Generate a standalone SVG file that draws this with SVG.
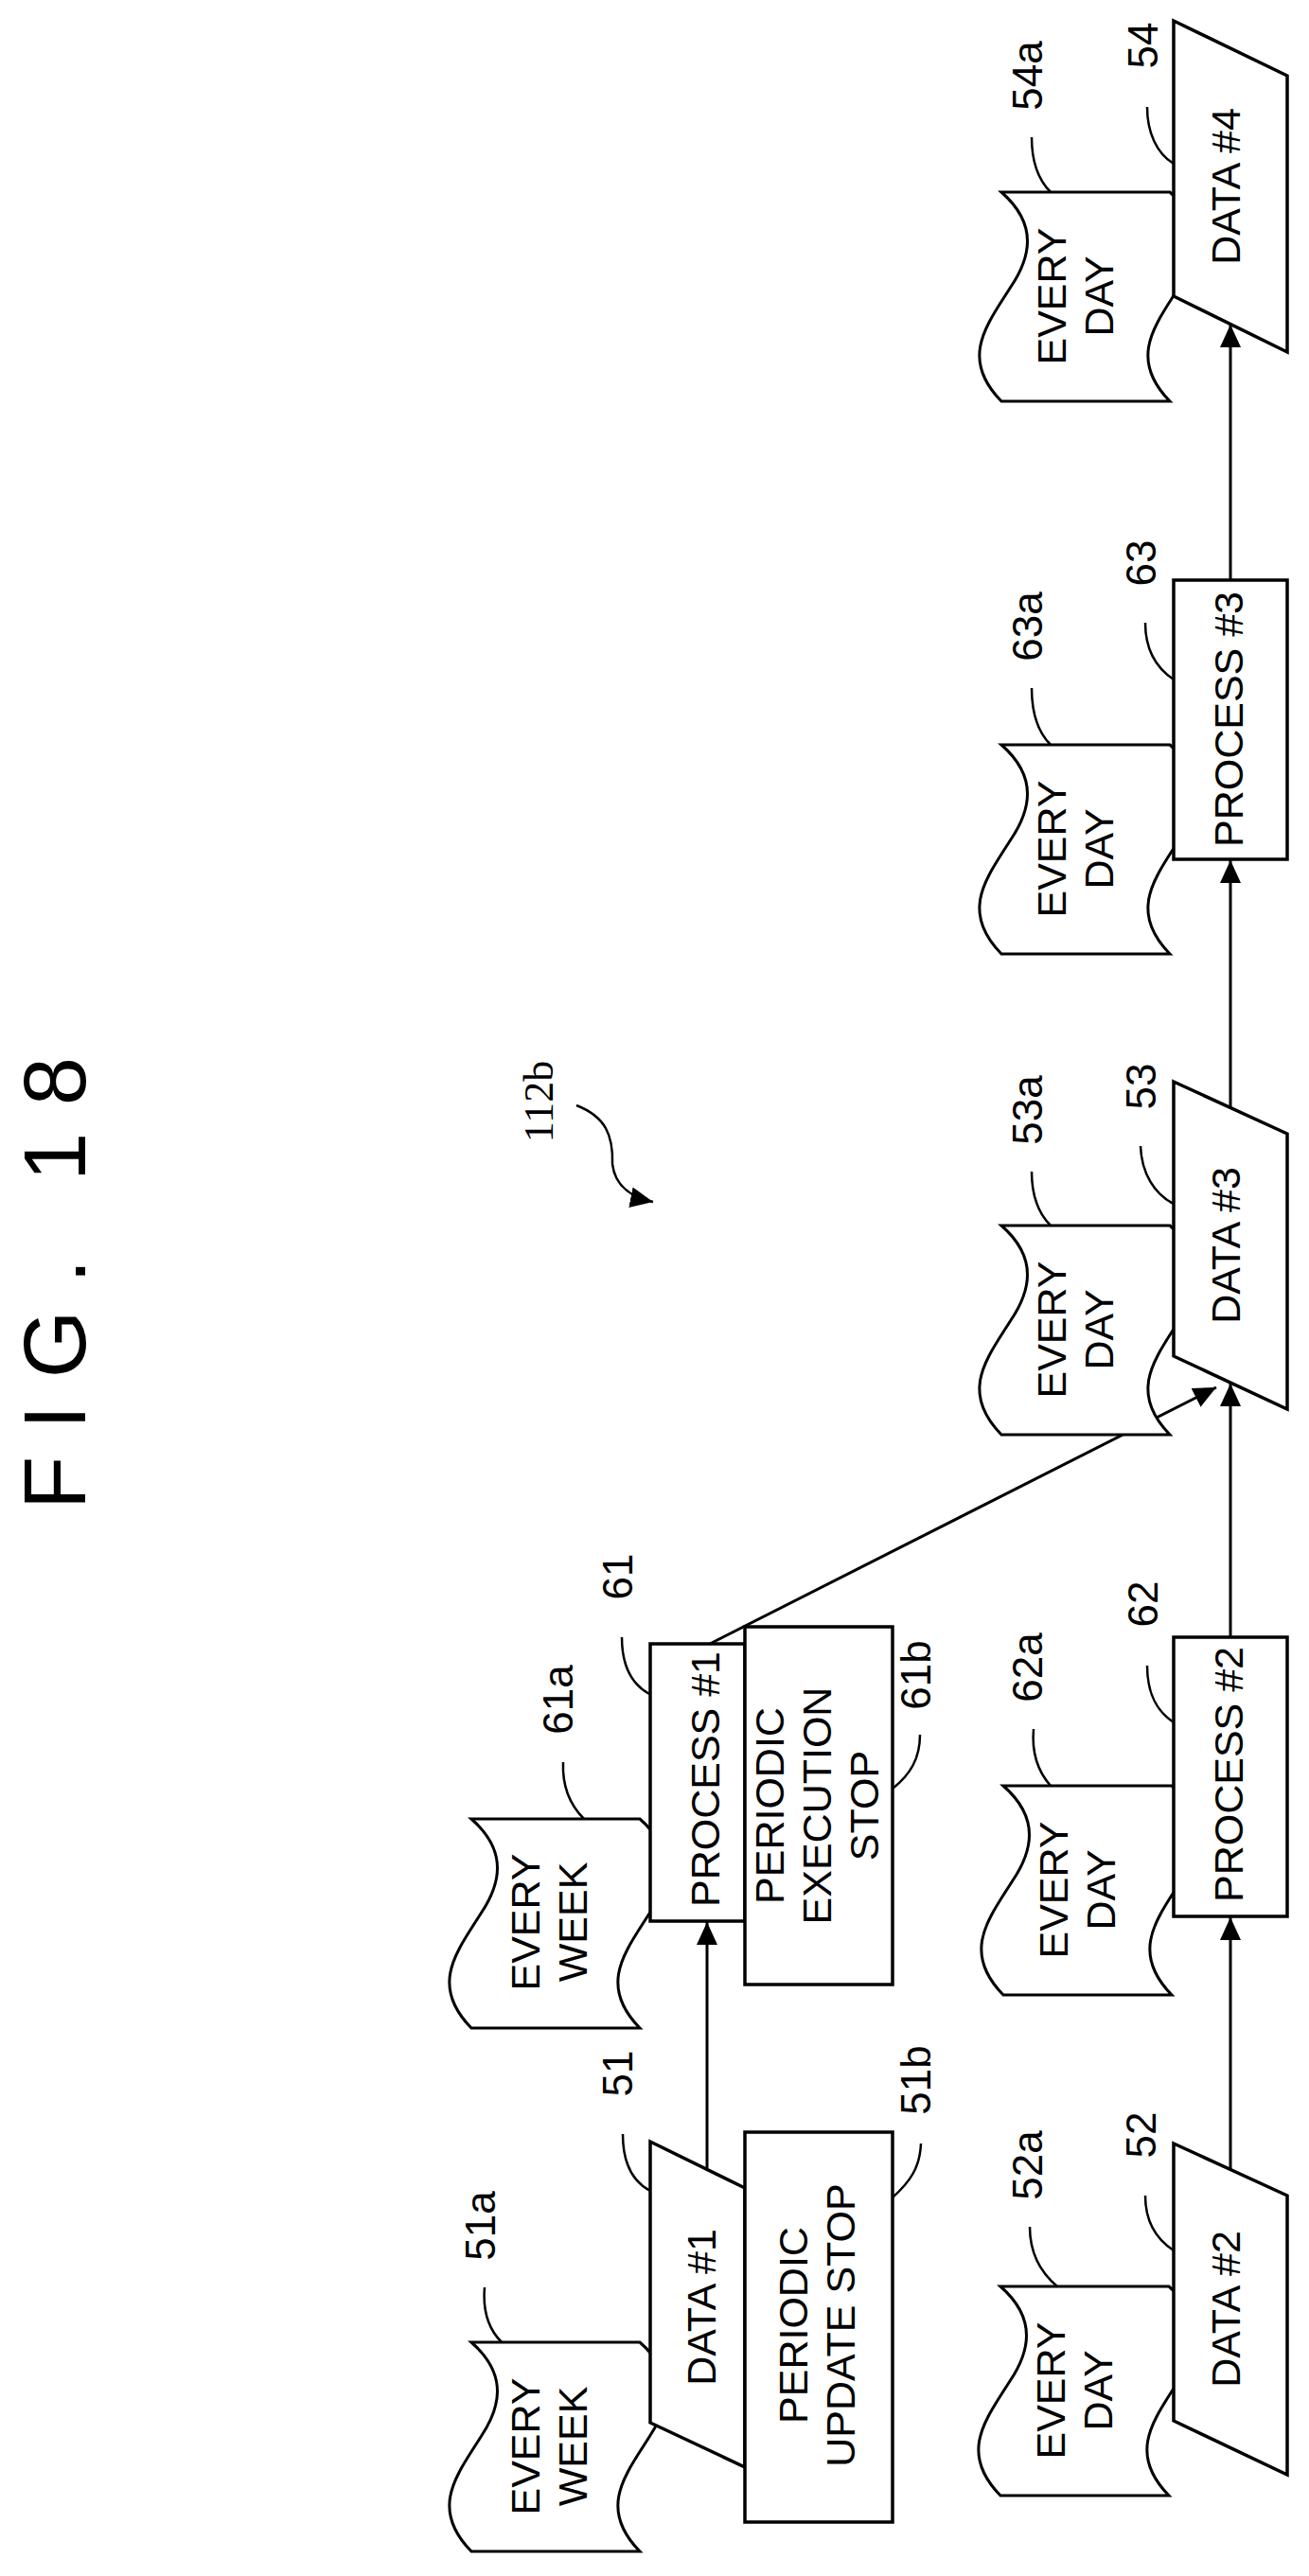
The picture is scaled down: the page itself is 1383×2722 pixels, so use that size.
<svg xmlns="http://www.w3.org/2000/svg" width="1383" height="2722" viewBox="0 0 1383 2722">
<defs>
<marker id="ah" markerUnits="userSpaceOnUse" markerWidth="26" markerHeight="22" refX="24" refY="11" orient="auto">
<path d="M0,0 L24,11 L0,22 Z" fill="#000"/>
</marker>
<path id="doc" d="M0,0 L178,0 C218,35 208,70 188,100 C163,140 133,175 178,221 L0,221 C-45,175 -15,140 10,100 C30,70 40,35 0,0 Z"/>
</defs>
<style>
.box{fill:#fff;stroke:#000;stroke-width:3.5}
.shp{fill:#fff;stroke:#000;stroke-width:3}
.ld{fill:none;stroke:#000;stroke-width:2.5}
.cn{fill:none;stroke:#000;stroke-width:3}
text{font-family:"Liberation Sans",Arial,sans-serif;font-size:43px;fill:#000;text-anchor:middle;dominant-baseline:central}
.lb{font-size:44px}
</style>
<rect width="1383" height="2722" fill="#fff"/>
<g id="title">
<text transform="translate(58,1356) rotate(-90)" style="font-size:92px" textLength="478" lengthAdjust="spacing">FIG. 18</text>
<text transform="translate(569,1164) rotate(-90)" style="font-family:'Liberation Serif',serif;font-size:44px">112b</text>
<path class="ld" d="M609,1168 C640,1180 648,1200 647,1230 C650,1255 670,1266 690,1270" marker-end="url(#ah)"/>
</g>
<g id="connectors">
<line class="cn" x1="747" y1="2291" x2="747" y2="2031" marker-end="url(#ah)"/>
<line class="cn" x1="750" y1="1737" x2="1285" y2="1466" marker-end="url(#ah)"/>
<line class="cn" x1="1300" y1="2292" x2="1300" y2="2026" marker-end="url(#ah)"/>
<line class="cn" x1="1300" y1="1730" x2="1300" y2="1462" marker-end="url(#ah)"/>
<line class="cn" x1="1300" y1="1170" x2="1300" y2="909" marker-end="url(#ah)"/>
<line class="cn" x1="1300" y1="613" x2="1300" y2="343" marker-end="url(#ah)"/>
</g>
<g id="n51a">
<use href="#doc" class="shp" x="498" y="2475"/>
<text transform="translate(555,2585) rotate(-90)">EVERY</text>
<text transform="translate(605,2585) rotate(-90)">WEEK</text>
<path class="ld" d="M530,2475 C515,2460 510,2440 512,2417"/>
<text class="lb" transform="translate(507,2352) rotate(-90)">51a</text>
</g>
<g id="n51">
<polygon class="box" points="687,2263 787,2312 787,2607 687,2560"/>
<text transform="translate(741,2438) rotate(-90)">DATA #1</text>
<path class="ld" d="M687,2315 C668,2305 658,2285 658,2255"/>
<text class="lb" transform="translate(652,2191) rotate(-90)">51</text>
</g>
<g id="n51b">
<rect class="box" x="787" y="2253" width="156" height="412"/>
<text transform="translate(838,2457) rotate(-90)">PERIODIC</text>
<text transform="translate(888,2457) rotate(-90)">UPDATE STOP</text>
<path class="ld" d="M943,2322 C962,2305 972,2290 973,2265"/>
<text class="lb" transform="translate(967,2198) rotate(-90)">51b</text>
</g>
<g id="n61a">
<use href="#doc" class="shp" x="498" y="1922"/>
<text transform="translate(555,2031) rotate(-90)">EVERY</text>
<text transform="translate(605,2031) rotate(-90)">WEEK</text>
<path class="ld" d="M617,1922 C600,1905 594,1885 595,1862"/>
<text class="lb" transform="translate(589,1796) rotate(-90)">61a</text>
</g>
<g id="n61">
<rect class="box" x="687" y="1737" width="100" height="293"/>
<text transform="translate(745,1880) rotate(-90)">PROCESS #1</text>
<path class="ld" d="M686,1790 C668,1780 657,1760 657,1730"/>
<text class="lb" transform="translate(652,1666) rotate(-90)">61</text>
</g>
<g id="n61b">
<rect class="box" x="787" y="1719" width="156" height="378"/>
<text transform="translate(813,1908) rotate(-90)">PERIODIC</text>
<text transform="translate(863,1908) rotate(-90)">EXECUTION</text>
<text transform="translate(913,1908) rotate(-90)">STOP</text>
<path class="ld" d="M943,1890 C962,1875 972,1858 972,1833"/>
<text class="lb" transform="translate(967,1770) rotate(-90)">61b</text>
</g>
<g id="n52a">
<use href="#doc" class="shp" x="1057" y="2416"/>
<text transform="translate(1110,2526) rotate(-90)">EVERY</text>
<text transform="translate(1160,2526) rotate(-90)">DAY</text>
<path class="ld" d="M1117,2416 C1098,2400 1088,2380 1088,2353"/>
<text class="lb" transform="translate(1085,2288) rotate(-90)">52a</text>
</g>
<g id="n52">
<polygon class="box" points="1240,2265 1360,2320 1360,2615 1240,2558"/>
<text transform="translate(1295,2440) rotate(-90)">DATA #2</text>
<path class="ld" d="M1240,2378 C1220,2365 1210,2345 1210,2320"/>
<text class="lb" transform="translate(1205,2256) rotate(-90)">52</text>
</g>
<g id="n62a">
<use href="#doc" class="shp" x="1060" y="1887"/>
<text transform="translate(1113,1997) rotate(-90)">EVERY</text>
<text transform="translate(1163,1997) rotate(-90)">DAY</text>
<path class="ld" d="M1110,1887 C1095,1870 1090,1850 1092,1827"/>
<text class="lb" transform="translate(1085,1762) rotate(-90)">62a</text>
</g>
<g id="n62">
<rect class="box" x="1240" y="1730" width="120" height="295"/>
<text transform="translate(1298,1875) rotate(-90)">PROCESS #2</text>
<path class="ld" d="M1240,1820 C1222,1808 1212,1790 1212,1760"/>
<text class="lb" transform="translate(1207,1695) rotate(-90)">62</text>
</g>
<g id="n53a">
<use href="#doc" class="shp" x="1058" y="1295"/>
<text transform="translate(1111,1405) rotate(-90)">EVERY</text>
<text transform="translate(1161,1405) rotate(-90)">DAY</text>
<path class="ld" d="M1110,1295 C1095,1280 1090,1260 1090,1238"/>
<text class="lb" transform="translate(1085,1173) rotate(-90)">53a</text>
</g>
<g id="n53">
<polygon class="box" points="1240,1143 1360,1198 1360,1489 1240,1433"/>
<text transform="translate(1295,1316) rotate(-90)">DATA #3</text>
<path class="ld" d="M1240,1272 C1220,1262 1206,1240 1205,1211"/>
<text class="lb" transform="translate(1205,1148) rotate(-90)">53</text>
</g>
<g id="n63a">
<use href="#doc" class="shp" x="1058" y="787"/>
<text transform="translate(1111,897) rotate(-90)">EVERY</text>
<text transform="translate(1161,897) rotate(-90)">DAY</text>
<path class="ld" d="M1110,787 C1095,772 1090,750 1090,727"/>
<text class="lb" transform="translate(1085,662) rotate(-90)">63a</text>
</g>
<g id="n63">
<rect class="box" x="1240" y="613" width="120" height="295"/>
<text transform="translate(1298,760) rotate(-90)">PROCESS #3</text>
<path class="ld" d="M1240,718 C1222,706 1210,688 1210,658"/>
<text class="lb" transform="translate(1205,595) rotate(-90)">63</text>
</g>
<g id="n54a">
<use href="#doc" class="shp" x="1058" y="203"/>
<text transform="translate(1111,313) rotate(-90)">EVERY</text>
<text transform="translate(1161,313) rotate(-90)">DAY</text>
<path class="ld" d="M1110,203 C1095,188 1090,168 1090,145"/>
<text class="lb" transform="translate(1085,80) rotate(-90)">54a</text>
</g>
<g id="n54">
<polygon class="box" points="1240,22 1360,80 1360,372 1240,313"/>
<text transform="translate(1295,197) rotate(-90)">DATA #4</text>
<path class="ld" d="M1240,173 C1222,162 1212,140 1212,113"/>
<text class="lb" transform="translate(1207,48) rotate(-90)">54</text>
</g>
</svg>
